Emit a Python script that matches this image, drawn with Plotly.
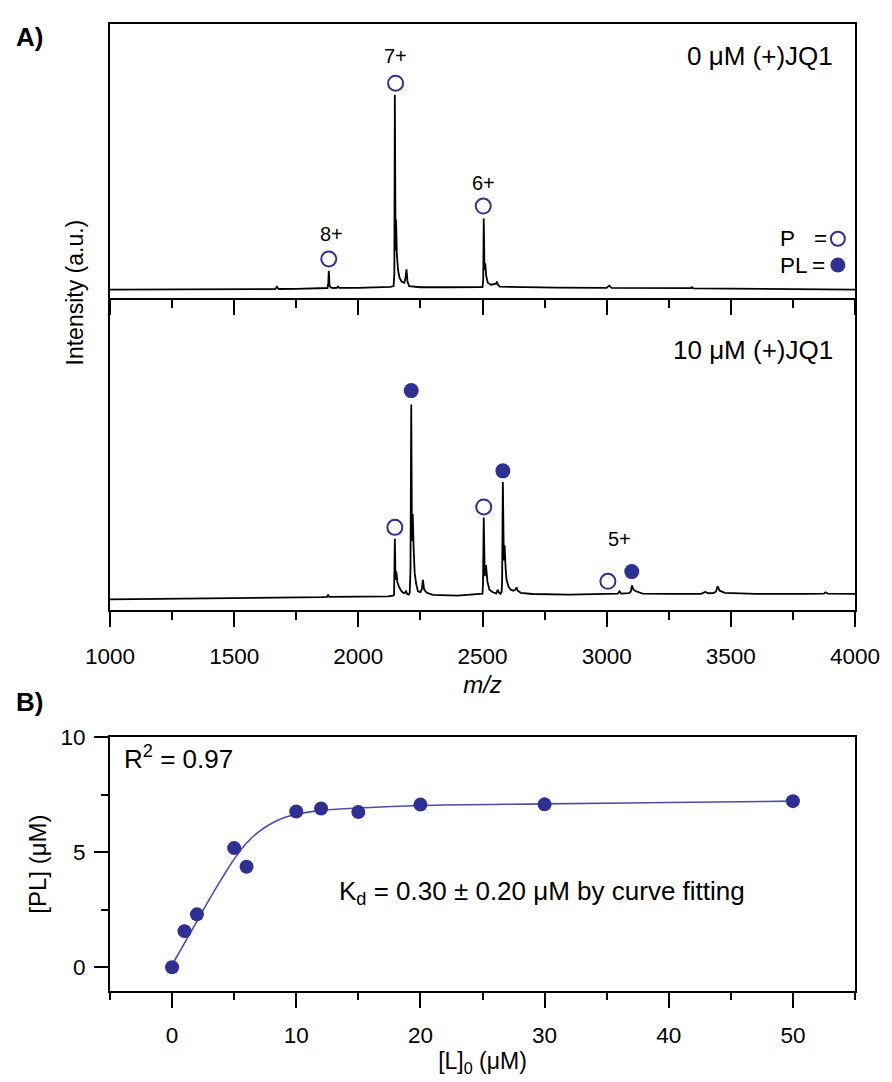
import plotly.graph_objects as go

# ---------------- data ----------------
# Panel A, 0 uM (+)JQ1 spectrum (m/z, relative intensity)
mz_0uM = [1000, 1300, 1600, 1665, 1672, 1679, 1750, 1850, 1876, 1879, 1881, 1884, 1890, 1900, 1914, 1918, 1923,
          2000, 2100, 2130, 2142, 2145, 2147, 2150, 2152, 2155, 2160, 2166, 2175, 2185, 2190, 2194, 2198, 2205,
          2250, 2350, 2450, 2500, 2503, 2505, 2508, 2511, 2515, 2521, 2535, 2550, 2555, 2558, 2562, 2570,
          2650, 2800, 3000, 3010, 3020, 3200, 3340, 3344, 3350, 3500, 3700, 4000]
int_0uM = [0, 0, 0.2, 0.3, 1.5, 0.3, 0.4, 0.6, 0.8, 3.0, 9.6, 2.0, 1.0, 0.8, 0.9, 1.5, 0.9,
           0.9, 1.1, 1.4, 1.8, 8.0, 100, 20, 36, 18, 10, 6, 4, 3.5, 6, 10.4, 4, 1.7,
           1.2, 1.2, 1.2, 1.3, 5.0, 36.5, 10, 13.5, 7, 3.5, 2.5, 2.8, 3.0, 4.2, 2.5, 1.5,
           1.2, 1.0, 0.9, 2.0, 0.9, 0.8, 0.7, 1.2, 0.6, 0.5, 0.3, 0]

# Panel A, 10 uM (+)JQ1 spectrum
mz_10uM = [1000, 1300, 1600, 1672, 1750, 1850, 1874, 1878, 1883, 1950, 2050, 2120, 2140, 2144, 2147, 2150,
           2153, 2157, 2163, 2172, 2180, 2186, 2192, 2197, 2203, 2207, 2210, 2213, 2216, 2219, 2223, 2227,
           2233, 2240, 2250, 2256, 2260, 2265, 2276, 2300, 2400, 2480, 2500, 2502, 2505, 2509, 2514, 2520,
           2528, 2540, 2555, 2561, 2566, 2572, 2577, 2579, 2582, 2586, 2589, 2593, 2597, 2605, 2614, 2625,
           2632, 2637, 2642, 2654, 2700, 2850, 3000, 3045, 3052, 3058, 3090, 3097, 3102, 3108, 3118, 3145,
           3250, 3380, 3397, 3410, 3430, 3440, 3447, 3455, 3476, 3600, 3800, 3875, 3881, 3890, 4000]
int_10uM = [0, 0.3, 0.6, 0.8, 1.0, 1.2, 1.3, 2.5, 1.3, 1.3, 1.4, 1.6, 2.0, 2.5, 31.2, 10,
            14.3, 9, 6.7, 4.5, 3.5, 3.2, 4.2, 2.8, 2.5, 3.5, 15, 100, 30, 43.8, 25, 13.5,
            8, 4.2, 3.8, 5.5, 10, 5, 3.4, 2.4, 2.0, 2.5, 3.0, 8.0, 42, 12, 17.7, 9,
            5, 3.8, 3.0, 5.0, 3.5, 2.9, 4.0, 10.0, 60.3, 20, 27.8, 16, 10, 6.5, 5, 4.5,
            5, 6.2, 4.5, 3.4, 2.8, 2.5, 2.6, 3.0, 4.2, 3.0, 3.2, 4.0, 7.2, 5.0, 4.2, 3.0,
            2.9, 2.9, 3.9, 3.2, 3.3, 4.0, 6.7, 4.5, 3.4, 2.9, 2.9, 3.0, 3.7, 3.0, 2.9]

# peak assignments (marker positions)
p_mz_0uM = [1881, 2150, 2503]
p_int_0uM = [15.7, 106, 42.9]
p_mz_10uM = [2147, 2505, 3005]
p_int_10uM = [37, 47.5, 9.3]
pl_mz_10uM = [2213, 2582, 3101]
pl_int_10uM = [107.2, 66, 14.3]

# charge-state labels
charge_labels_0uM = ["8+", "7+", "6+"]
charge_mz_0uM = [1891, 2148, 2504]
charge_int_0uM = [28.8, 119.8, 54.7]
charge_labels_10uM = ["5+"]
charge_mz_10uM = [3052]
charge_int_10uM = [31.2]

# Panel B: titration
L0 = [0, 1, 2, 5, 6, 10, 12, 15, 20, 30, 50]
PL = [0.0, 1.57, 2.3, 5.18, 4.37, 6.77, 6.9, 6.75, 7.07, 7.08, 7.22]
# fitted curve
L_fit = [0, 1, 2, 3, 4, 5, 6, 7, 8, 9, 10, 12, 15, 20, 30, 40, 50]
PL_fit = [0.1, 1.05, 2.0, 2.95, 3.85, 4.7, 5.4, 5.9, 6.25, 6.5, 6.65, 6.82, 6.92, 7.03, 7.1, 7.16, 7.22]

# ---------------- styling ----------------
FONT = "Liberation Sans, Arial, sans-serif"
NAVY = "#2E3192"
FIT = "#4A4FA6"

fig = go.Figure()

# spectra
fig.add_trace(go.Scatter(x=mz_0uM, y=int_0uM, mode="lines", line=dict(color="black", width=1.8),
                         xaxis="x", yaxis="y", showlegend=False, hoverinfo="skip"))
fig.add_trace(go.Scatter(x=mz_10uM, y=int_10uM, mode="lines", line=dict(color="black", width=1.8),
                         xaxis="x2", yaxis="y2", showlegend=False, hoverinfo="skip"))

open_marker = dict(symbol="circle-open", size=15, color=NAVY, line=dict(width=2, color=NAVY))
fill_marker = dict(symbol="circle", size=15, color=NAVY, line=dict(width=0))

fig.add_trace(go.Scatter(x=p_mz_0uM, y=p_int_0uM, mode="markers", marker=open_marker,
                         xaxis="x", yaxis="y", showlegend=False))
fig.add_trace(go.Scatter(x=p_mz_10uM, y=p_int_10uM, mode="markers", marker=open_marker,
                         xaxis="x2", yaxis="y2", showlegend=False))
fig.add_trace(go.Scatter(x=pl_mz_10uM, y=pl_int_10uM, mode="markers", marker=fill_marker,
                         xaxis="x2", yaxis="y2", showlegend=False))

# key markers (P = open, PL = filled)
key_mz = [3931]
key_int_P = [26.1]
key_int_PL = [12.6]
fig.add_trace(go.Scatter(x=key_mz, y=key_int_P, mode="markers", marker=dict(open_marker, size=14),
                         xaxis="x", yaxis="y", showlegend=False))
fig.add_trace(go.Scatter(x=key_mz, y=key_int_PL, mode="markers", marker=dict(fill_marker, size=15),
                         xaxis="x", yaxis="y", showlegend=False))

# panel B
fig.add_trace(go.Scatter(x=L_fit, y=PL_fit, mode="lines", line=dict(color=FIT, width=1.6, shape="spline"),
                         xaxis="x3", yaxis="y3", showlegend=False))
fig.add_trace(go.Scatter(x=L0, y=PL, mode="markers", marker=dict(symbol="circle", size=14, color=NAVY),
                         xaxis="x3", yaxis="y3", showlegend=False))

# ---------------- axes ----------------
axis_common = dict(showline=True, linecolor="black", linewidth=2, mirror=True,
                   showgrid=False, zeroline=False)

xA = dict(axis_common, range=[1000, 4000], tickmode="linear", tick0=1000, dtick=500,
          ticks="outside", ticklen=15, tickwidth=2, tickcolor="black",
          minor=dict(dtick=250, ticks="outside", ticklen=8, tickwidth=2, tickcolor="black"))

fig.update_layout(
    width=892, height=1082,
    margin=dict(l=110, r=28, t=15, b=84),
    paper_bgcolor="white", plot_bgcolor="white",
    font=dict(family=FONT, size=22, color="black"),
    xaxis=dict(xA, domain=[0, 1], anchor="y", showticklabels=False),
    yaxis=dict(axis_common, domain=[0.7162, 1], range=[-4.55, 136.4], showticklabels=False,
               ticks="", anchor="x"),
    xaxis2=dict(xA, domain=[0, 1], anchor="y2", showticklabels=True, mirror=False,
                tickfont=dict(size=22.5), ticklabelstandoff=10,
                title=dict(text="<i>m/z</i>", font=dict(size=24), standoff=8)),
    yaxis2=dict(axis_common, domain=[0.3937, 0.7162], range=[-5.56, 154.5], showticklabels=False,
                ticks="", anchor="x2"),
    xaxis3=dict(axis_common, domain=[0, 1], anchor="y3", range=[-5, 55], tickmode="linear",
                tick0=0, dtick=10, ticks="outside", ticklen=15, tickwidth=2, tickcolor="black",
                minor=dict(dtick=5, ticks="outside", ticklen=7, tickwidth=2, tickcolor="black"),
                tickfont=dict(size=22.5), ticklabelstandoff=8,
                title=dict(text="[L]<sub>0</sub> (μM)", font=dict(size=23), standoff=6)),
    yaxis3=dict(axis_common, domain=[0, 0.2625], anchor="x3", range=[-1.03, 10], tickmode="linear",
                tick0=0, dtick=5, ticks="outside", ticklen=14, tickwidth=2, tickcolor="black",
                minor=dict(dtick=2.5, ticks="outside", ticklen=7, tickwidth=2, tickcolor="black"),
                tickfont=dict(size=22.5), ticklabelstandoff=4,
                title=dict(text="[PL] (μM)", font=dict(size=24), standoff=7)),
)

# ---------------- annotations ----------------
ann = []
ann.append(dict(text="<b>A)</b>", xref="paper", yref="paper", x=-0.1286, y=0.9868,
                xanchor="left", yanchor="middle", showarrow=False, font=dict(size=26)))
ann.append(dict(text="<b>B)</b>", xref="paper", yref="paper", x=-0.1286, y=0.2991,
                xanchor="left", yanchor="middle", showarrow=False, font=dict(size=26)))
ann.append(dict(text="Intensity (a.u.)", xref="paper", yref="paper", x=-0.0464, y=0.7228,
                xanchor="center", yanchor="middle", textangle=-90, showarrow=False, font=dict(size=23)))

for t, xv, yv in zip(charge_labels_0uM, charge_mz_0uM, charge_int_0uM):
    ann.append(dict(text=t, x=xv, y=yv, xref="x", yref="y", showarrow=False,
                    xanchor="center", yanchor="middle", font=dict(size=20)))
for t, xv, yv in zip(charge_labels_10uM, charge_mz_10uM, charge_int_10uM):
    ann.append(dict(text=t, x=xv, y=yv, xref="x2", yref="y2", showarrow=False,
                    xanchor="center", yanchor="middle", font=dict(size=20)))

ann.append(dict(text="0 μM (+)JQ1", x=3921, y=120.2, xref="x", yref="y", showarrow=False,
                xanchor="right", yanchor="middle", font=dict(size=26)))
ann.append(dict(text="10 μM (+)JQ1", x=3921, y=127.9, xref="x2", yref="y2", showarrow=False,
                xanchor="right", yanchor="middle", font=dict(size=26)))

ann.append(dict(text="P", x=3690, y=26.1, xref="x", yref="y", showarrow=False,
                xanchor="left", yanchor="middle", font=dict(size=22.5)))
ann.append(dict(text="PL", x=3690, y=12.6, xref="x", yref="y", showarrow=False,
                xanchor="left", yanchor="middle", font=dict(size=22.5)))
ann.append(dict(text="=", x=3862, y=26.1, xref="x", yref="y", showarrow=False,
                xanchor="center", yanchor="middle", font=dict(size=22.5)))
ann.append(dict(text="=", x=3855, y=12.6, xref="x", yref="y", showarrow=False,
                xanchor="center", yanchor="middle", font=dict(size=22.5)))

ann.append(dict(text="R<sup>2</sup> = 0.97", x=-4.0, y=9.1, xref="x3", yref="y3", showarrow=False,
                xanchor="left", yanchor="middle", font=dict(size=26)))
ann.append(dict(text="K<sub>d</sub> = 0.30 ± 0.20 μM by curve fitting", x=13.3, y=3.25,
                xref="x3", yref="y3", showarrow=False, xanchor="left", yanchor="middle",
                font=dict(size=26)))

fig.update_layout(annotations=ann)

fig.write_html("out.html")
